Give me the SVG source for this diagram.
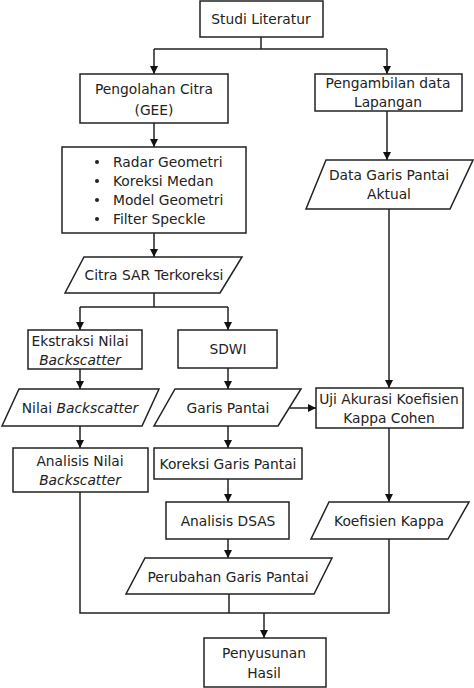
<svg xmlns="http://www.w3.org/2000/svg" width="474" height="688" viewBox="0 0 474 688">
<defs>
<marker id="ah" viewBox="0 0 10 10" refX="10" refY="5" markerWidth="8" markerHeight="8" markerUnits="userSpaceOnUse" orient="auto">
<path d="M0,0 L10,5 L0,10 z" fill="#111"/>
</marker>
<style>
.n{fill:#fff;stroke:#222;stroke-width:1.5}
.c{fill:none;stroke:#222;stroke-width:1.5}
.a{marker-end:url(#ah)}
text{font-family:"DejaVu Sans",Verdana,sans-serif;font-size:13.8px;fill:#222;text-anchor:middle}
.l{text-anchor:start}
</style>
</defs>
<rect width="474" height="688" fill="#fff"/>
<g id="connectors">
<path class="c" d="M261,37 V49 H154 M261,49 H387"/>
<path class="c a" d="M154,49 V74"/>
<path class="c a" d="M387,49 V74"/>
<path class="c a" d="M154,123 V147"/>
<path class="c a" d="M154,233 V257"/>
<path class="c a" d="M387,111 V160"/>
<path class="c" d="M154,293 V307 H80 M154,307 H228"/>
<path class="c a" d="M80,307 V330"/>
<path class="c a" d="M228,307 V330"/>
<path class="c a" d="M80,369 V389"/>
<path class="c a" d="M228,368 V389"/>
<path class="c a" d="M80,426 V448"/>
<path class="c a" d="M228,426 V448"/>
<path class="c a" d="M389,209 V388"/>
<path class="c a" d="M290,408 H316"/>
<path class="c a" d="M389,428 V502"/>
<path class="c a" d="M228,479 V502"/>
<path class="c a" d="M228,539 V558"/>
<path class="c" d="M80,492 V613 H389 V539 M229,594 V613"/>
<path class="c a" d="M264,613 V638"/>
</g>
<g id="studi"><rect class="n" x="200" y="1" width="123" height="36"/><text x="261" y="24">Studi Literatur</text></g>
<g id="pengolahan"><rect class="n" x="80" y="74" width="148" height="49"/><text x="154" y="94">Pengolahan Citra</text><text x="154" y="115">(GEE)</text></g>
<g id="pengambilan"><rect class="n" x="315" y="74" width="147" height="37"/><text x="388" y="88">Pengambilan data</text><text x="388" y="107">Lapangan</text></g>
<g id="koreksi-list"><rect class="n" x="62" y="147" width="184" height="86"/>
<circle cx="97" cy="162" r="2" fill="#222"/><circle cx="97" cy="181" r="2" fill="#222"/><circle cx="97" cy="200" r="2" fill="#222"/><circle cx="97" cy="219" r="2" fill="#222"/>
<text class="l" x="113" y="167">Radar Geometri</text><text class="l" x="113" y="186">Koreksi Medan</text><text class="l" x="113" y="205">Model Geometri</text><text class="l" x="113" y="224">Filter Speckle</text></g>
<g id="data-garis"><polygon class="n" points="326,160 473,160 450,209 306,209"/><text x="389" y="180">Data Garis Pantai</text><text x="389" y="199">Aktual</text></g>
<g id="citra-sar"><polygon class="n" points="84,257 242,257 220,293 65,293"/><text x="154" y="280">Citra SAR Terkoreksi</text></g>
<g id="ekstraksi"><rect class="n" x="28" y="330" width="114" height="39"/><text x="80" y="346">Ekstraksi Nilai</text><text x="80" y="365" font-style="italic">Backscatter</text></g>
<g id="sdwi"><rect class="n" x="178" y="330" width="99" height="38"/><text x="228" y="354">SDWI</text></g>
<g id="nilai-bs"><polygon class="n" points="19,389 159,389 142,426 2,426"/><text x="80" y="413">Nilai <tspan font-style="italic">Backscatter</tspan></text></g>
<g id="garis-pantai"><polygon class="n" points="175,389 301,389 278,426 154,426"/><text x="228" y="413">Garis Pantai</text></g>
<g id="uji"><rect class="n" x="316" y="388" width="147" height="40"/><text x="389" y="404">Uji Akurasi Koefisien</text><text x="389" y="423">Kappa Cohen</text></g>
<g id="analisis-nilai"><rect class="n" x="13" y="448" width="135" height="44"/><text x="80" y="466">Analisis Nilai</text><text x="80" y="485" font-style="italic">Backscatter</text></g>
<g id="koreksi-garis"><rect class="n" x="154" y="448" width="148" height="31"/><text x="228" y="469">Koreksi Garis Pantai</text></g>
<g id="dsas"><rect class="n" x="166" y="502" width="123" height="37"/><text x="228" y="526">Analisis DSAS</text></g>
<g id="kappa"><polygon class="n" points="329,502 469,502 448,539 311,539"/><text x="389" y="526">Koefisien Kappa</text></g>
<g id="perubahan"><polygon class="n" points="145,558 332,558 314,594 126,594"/><text x="228" y="582">Perubahan Garis Pantai</text></g>
<g id="penyusunan"><rect class="n" x="204" y="638" width="122" height="49"/><text x="264" y="658">Penyusunan</text><text x="264" y="678">Hasil</text></g>
</svg>
